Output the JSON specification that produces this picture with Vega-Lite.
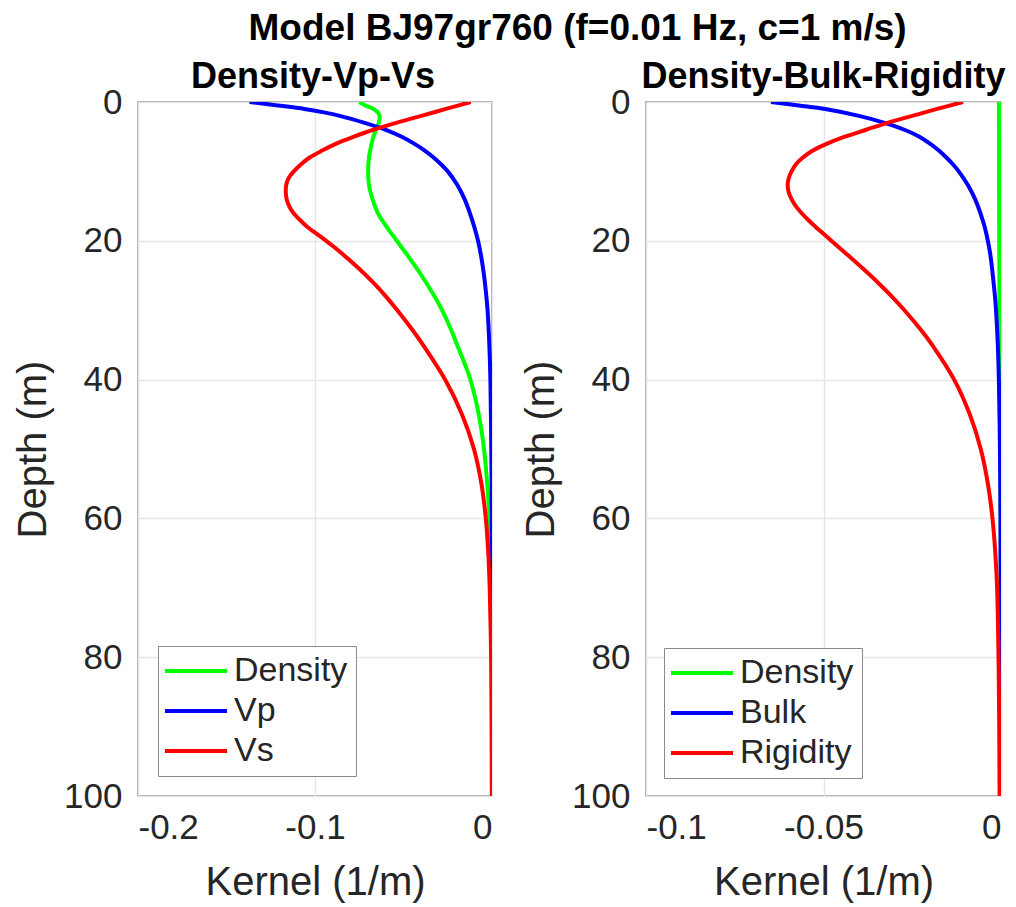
{
  "$schema": "https://vega.github.io/schema/vega-lite/v6.json",
  "background": "white",
  "padding": {"left": 12, "top": 10, "right": 5, "bottom": 5},
  "config": {
    "font": "Liberation Sans",
    "view": {"stroke": "#8a8a8a", "strokeWidth": 1.5},
    "axis": {
      "labelFont": "Liberation Sans", "labelFontSize": 35, "labelColor": "#262626",
      "titleFont": "Liberation Sans", "titleFontSize": 40, "titleFontWeight": "normal", "titleColor": "#262626",
      "gridColor": "#e6e6e6", "gridWidth": 1.5, "domain": false, "ticks": false
    },
    "axisX": {"labelPadding": 14, "titlePadding": 17},
    "axisY": {"labelPadding": 16, "titlePadding": 10},
    "title": {"font": "Liberation Sans", "fontSize": 36, "fontWeight": "bold", "color": "#000000"},
    "legend": {
      "orient": "bottom-left", "offset": 20, "fillColor": "white", "strokeColor": "#8a8a8a",
      "padding": 8, "rowPadding": 6, "cornerRadius": 0,
      "symbolType": "M-3,0H3", "symbolSize": 428, "symbolStrokeWidth": 4, "symbolOffset": 13,
      "labelFont": "Liberation Sans", "labelFontSize": 34, "labelColor": "#262626", "labelOffset": 21, "labelLimit": 400
    }
  },
  "title": {"text": "Model BJ97gr760 (f=0.01 Hz, c=1 m/s)", "anchor": "middle", "offset": 10, "fontSize": 37, "dx": 68},
  "spacing": 27,
  "datasets": {
    "k": [
      {"p":"L","s":"Density","d":0,"k":-0.075},{"p":"L","s":"Density","d":0.5,"k":-0.0715},{"p":"L","s":"Density","d":1,"k":-0.067},{"p":"L","s":"Density","d":1.5,"k":-0.0645},{"p":"L","s":"Density","d":2,"k":-0.0635},{"p":"L","s":"Density","d":3,"k":-0.064},{"p":"L","s":"Density","d":4,"k":-0.0655},{"p":"L","s":"Density","d":5,"k":-0.067},{"p":"L","s":"Density","d":6,"k":-0.068},{"p":"L","s":"Density","d":8,"k":-0.0695},{"p":"L","s":"Density","d":10,"k":-0.07},{"p":"L","s":"Density","d":12,"k":-0.0695},{"p":"L","s":"Density","d":14,"k":-0.0675},{"p":"L","s":"Density","d":16,"k":-0.0645},{"p":"L","s":"Density","d":18,"k":-0.0595},{"p":"L","s":"Density","d":20,"k":-0.0538},{"p":"L","s":"Density","d":22,"k":-0.048},{"p":"L","s":"Density","d":25,"k":-0.0398},{"p":"L","s":"Density","d":28,"k":-0.0325},{"p":"L","s":"Density","d":30,"k":-0.0282},{"p":"L","s":"Density","d":33,"k":-0.0228},{"p":"L","s":"Density","d":35,"k":-0.0197},{"p":"L","s":"Density","d":40,"k":-0.0122},{"p":"L","s":"Density","d":45,"k":-0.0075},{"p":"L","s":"Density","d":50,"k":-0.0045},{"p":"L","s":"Density","d":55,"k":-0.0027},{"p":"L","s":"Density","d":60,"k":-0.0015},{"p":"L","s":"Density","d":70,"k":-0.0005},{"p":"L","s":"Density","d":80,"k":-0.0002},{"p":"L","s":"Density","d":100,"k":0},
      {"p":"L","s":"Vp","d":0,"k":-0.137},{"p":"L","s":"Vp","d":0.5,"k":-0.121},{"p":"L","s":"Vp","d":1,"k":-0.106},{"p":"L","s":"Vp","d":1.5,"k":-0.095},{"p":"L","s":"Vp","d":2,"k":-0.086},{"p":"L","s":"Vp","d":3,"k":-0.072},{"p":"L","s":"Vp","d":4,"k":-0.06},{"p":"L","s":"Vp","d":5,"k":-0.051},{"p":"L","s":"Vp","d":6,"k":-0.044},{"p":"L","s":"Vp","d":7,"k":-0.038},{"p":"L","s":"Vp","d":8,"k":-0.033},{"p":"L","s":"Vp","d":10,"k":-0.025},{"p":"L","s":"Vp","d":12,"k":-0.0195},{"p":"L","s":"Vp","d":14,"k":-0.0155},{"p":"L","s":"Vp","d":16,"k":-0.0125},{"p":"L","s":"Vp","d":18,"k":-0.01},{"p":"L","s":"Vp","d":20,"k":-0.0079},{"p":"L","s":"Vp","d":22,"k":-0.0063},{"p":"L","s":"Vp","d":25,"k":-0.0045},{"p":"L","s":"Vp","d":28,"k":-0.0032},{"p":"L","s":"Vp","d":30,"k":-0.0025},{"p":"L","s":"Vp","d":35,"k":-0.0015},{"p":"L","s":"Vp","d":40,"k":-0.0009},{"p":"L","s":"Vp","d":50,"k":-0.0004},{"p":"L","s":"Vp","d":60,"k":-0.0001},{"p":"L","s":"Vp","d":100,"k":0},
      {"p":"L","s":"Vs","d":0,"k":-0.012},{"p":"L","s":"Vs","d":1,"k":-0.026},{"p":"L","s":"Vs","d":2,"k":-0.04},{"p":"L","s":"Vs","d":3,"k":-0.054},{"p":"L","s":"Vs","d":4,"k":-0.067},{"p":"L","s":"Vs","d":5,"k":-0.078},{"p":"L","s":"Vs","d":6,"k":-0.088},{"p":"L","s":"Vs","d":7,"k":-0.096},{"p":"L","s":"Vs","d":8,"k":-0.103},{"p":"L","s":"Vs","d":9,"k":-0.108},{"p":"L","s":"Vs","d":10,"k":-0.112},{"p":"L","s":"Vs","d":11,"k":-0.115},{"p":"L","s":"Vs","d":12,"k":-0.1163},{"p":"L","s":"Vs","d":13,"k":-0.1165},{"p":"L","s":"Vs","d":14,"k":-0.116},{"p":"L","s":"Vs","d":15,"k":-0.1146},{"p":"L","s":"Vs","d":16,"k":-0.1122},{"p":"L","s":"Vs","d":17,"k":-0.1085},{"p":"L","s":"Vs","d":18,"k":-0.1043},{"p":"L","s":"Vs","d":19,"k":-0.099},{"p":"L","s":"Vs","d":20,"k":-0.0937},{"p":"L","s":"Vs","d":21,"k":-0.0887},{"p":"L","s":"Vs","d":22,"k":-0.084},{"p":"L","s":"Vs","d":24,"k":-0.0752},{"p":"L","s":"Vs","d":26,"k":-0.0672},{"p":"L","s":"Vs","d":28,"k":-0.06},{"p":"L","s":"Vs","d":30,"k":-0.0535},{"p":"L","s":"Vs","d":33,"k":-0.0445},{"p":"L","s":"Vs","d":35,"k":-0.039},{"p":"L","s":"Vs","d":40,"k":-0.0265},{"p":"L","s":"Vs","d":45,"k":-0.017},{"p":"L","s":"Vs","d":50,"k":-0.0102},{"p":"L","s":"Vs","d":55,"k":-0.006},{"p":"L","s":"Vs","d":60,"k":-0.0035},{"p":"L","s":"Vs","d":65,"k":-0.0021},{"p":"L","s":"Vs","d":70,"k":-0.0013},{"p":"L","s":"Vs","d":80,"k":-0.0005},{"p":"L","s":"Vs","d":90,"k":-0.0002},{"p":"L","s":"Vs","d":100,"k":-0.0001},
      {"p":"R","s":"Density","d":0,"k":-0.0006},{"p":"R","s":"Density","d":20,"k":-0.0005},{"p":"R","s":"Density","d":40,"k":-0.0003},{"p":"R","s":"Density","d":60,"k":-0.0001},{"p":"R","s":"Density","d":100,"k":0},
      {"p":"R","s":"Bulk","d":0,"k":-0.0648},{"p":"R","s":"Bulk","d":0.5,"k":-0.057},{"p":"R","s":"Bulk","d":1,"k":-0.0495},{"p":"R","s":"Bulk","d":2,"k":-0.04},{"p":"R","s":"Bulk","d":3,"k":-0.0328},{"p":"R","s":"Bulk","d":4,"k":-0.0272},{"p":"R","s":"Bulk","d":5,"k":-0.023},{"p":"R","s":"Bulk","d":6,"k":-0.02},{"p":"R","s":"Bulk","d":7,"k":-0.0175},{"p":"R","s":"Bulk","d":8,"k":-0.0154},{"p":"R","s":"Bulk","d":9,"k":-0.0135},{"p":"R","s":"Bulk","d":10,"k":-0.0119},{"p":"R","s":"Bulk","d":12,"k":-0.0093},{"p":"R","s":"Bulk","d":14,"k":-0.0073},{"p":"R","s":"Bulk","d":16,"k":-0.0058},{"p":"R","s":"Bulk","d":18,"k":-0.0046},{"p":"R","s":"Bulk","d":20,"k":-0.0037},{"p":"R","s":"Bulk","d":22,"k":-0.003},{"p":"R","s":"Bulk","d":25,"k":-0.0023},{"p":"R","s":"Bulk","d":28,"k":-0.0017},{"p":"R","s":"Bulk","d":30,"k":-0.0014},{"p":"R","s":"Bulk","d":35,"k":-0.0009},{"p":"R","s":"Bulk","d":40,"k":-0.0006},{"p":"R","s":"Bulk","d":50,"k":-0.0003},{"p":"R","s":"Bulk","d":60,"k":-0.00015},{"p":"R","s":"Bulk","d":80,"k":-0.00005},{"p":"R","s":"Bulk","d":100,"k":0},
      {"p":"R","s":"Rigidity","d":0,"k":-0.0107},{"p":"R","s":"Rigidity","d":1,"k":-0.018},{"p":"R","s":"Rigidity","d":2,"k":-0.025},{"p":"R","s":"Rigidity","d":3,"k":-0.032},{"p":"R","s":"Rigidity","d":4,"k":-0.038},{"p":"R","s":"Rigidity","d":5,"k":-0.044},{"p":"R","s":"Rigidity","d":6,"k":-0.049},{"p":"R","s":"Rigidity","d":7,"k":-0.053},{"p":"R","s":"Rigidity","d":8,"k":-0.0558},{"p":"R","s":"Rigidity","d":9,"k":-0.0578},{"p":"R","s":"Rigidity","d":10,"k":-0.059},{"p":"R","s":"Rigidity","d":11,"k":-0.0598},{"p":"R","s":"Rigidity","d":12,"k":-0.0601},{"p":"R","s":"Rigidity","d":13,"k":-0.0598},{"p":"R","s":"Rigidity","d":14,"k":-0.059},{"p":"R","s":"Rigidity","d":15,"k":-0.0578},{"p":"R","s":"Rigidity","d":16,"k":-0.0562},{"p":"R","s":"Rigidity","d":17,"k":-0.0543},{"p":"R","s":"Rigidity","d":18,"k":-0.0522},{"p":"R","s":"Rigidity","d":19,"k":-0.05},{"p":"R","s":"Rigidity","d":20,"k":-0.0478},{"p":"R","s":"Rigidity","d":22,"k":-0.0433},{"p":"R","s":"Rigidity","d":24,"k":-0.0389},{"p":"R","s":"Rigidity","d":26,"k":-0.0347},{"p":"R","s":"Rigidity","d":28,"k":-0.0308},{"p":"R","s":"Rigidity","d":30,"k":-0.0272},{"p":"R","s":"Rigidity","d":33,"k":-0.0223},{"p":"R","s":"Rigidity","d":35,"k":-0.0194},{"p":"R","s":"Rigidity","d":40,"k":-0.0132},{"p":"R","s":"Rigidity","d":45,"k":-0.0088},{"p":"R","s":"Rigidity","d":50,"k":-0.0057},{"p":"R","s":"Rigidity","d":55,"k":-0.0037},{"p":"R","s":"Rigidity","d":60,"k":-0.0024},{"p":"R","s":"Rigidity","d":65,"k":-0.0016},{"p":"R","s":"Rigidity","d":70,"k":-0.0011},{"p":"R","s":"Rigidity","d":80,"k":-0.0007},{"p":"R","s":"Rigidity","d":90,"k":-0.0005},{"p":"R","s":"Rigidity","d":100,"k":-0.0004}
    ]
  },
  "hconcat": [
    {
      "width": 354, "height": 694,
      "title": {"text": "Density-Vp-Vs", "offset": -11, "dx": -2},
      "data": {"name": "k"},
      "transform": [{"filter": "datum.p == 'L'"}],
      "mark": {"type": "line", "strokeWidth": 4, "interpolate": "catmull-rom", "clip": true},
      "encoding": {
        "x": {"field": "k", "type": "quantitative", "scale": {"domain": [-0.2, 0], "nice": false, "zero": false},
              "axis": {"values": [-0.2, -0.1, 0], "title": "Kernel (1/m)", "labelExpr": "toString(datum.value)"}},
        "y": {"field": "d", "type": "quantitative", "scale": {"domain": [0, 100], "reverse": true, "nice": false},
              "axis": {"values": [0, 20, 40, 60, 80, 100], "title": "Depth (m)"}},
        "color": {"field": "s", "type": "nominal", "scale": {"domain": ["Density", "Vp", "Vs"], "range": ["#00ff00", "#0000ff", "#ff0000"]}, "legend": {"title": null}},
        "order": {"field": "d", "type": "quantitative"}
      }
    },
    {
      "width": 355, "height": 694,
      "title": {"text": "Density-Bulk-Rigidity", "offset": -11},
      "data": {"name": "k"},
      "transform": [{"filter": "datum.p == 'R'"}],
      "mark": {"type": "line", "strokeWidth": 4, "interpolate": "catmull-rom", "clip": true},
      "encoding": {
        "x": {"field": "k", "type": "quantitative", "scale": {"domain": [-0.1, 0], "nice": false, "zero": false},
              "axis": {"values": [-0.1, -0.05, 0], "title": "Kernel (1/m)", "labelExpr": "toString(datum.value)"}},
        "y": {"field": "d", "type": "quantitative", "scale": {"domain": [0, 100], "reverse": true, "nice": false},
              "axis": {"values": [0, 20, 40, 60, 80, 100], "title": "Depth (m)"}},
        "color": {"field": "s", "type": "nominal", "scale": {"domain": ["Density", "Bulk", "Rigidity"], "range": ["#00ff00", "#0000ff", "#ff0000"]}, "legend": {"title": null, "offset": 18}},
        "order": {"field": "d", "type": "quantitative"}
      }
    }
  ],
  "resolve": {"scale": {"color": "independent", "x": "independent", "y": "independent"}, "legend": {"color": "independent"}}
}
